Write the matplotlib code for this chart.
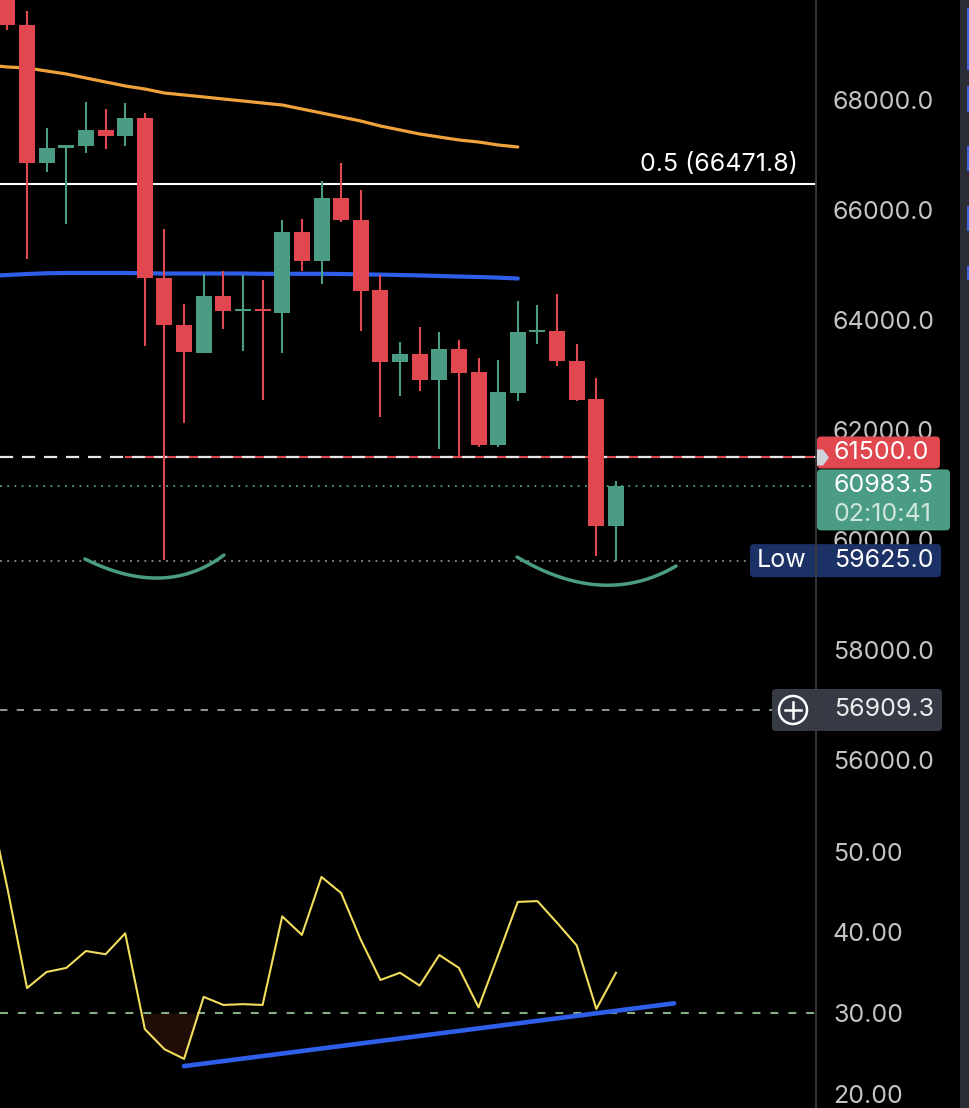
import numpy as np
import matplotlib
matplotlib.use('Agg')
import matplotlib.pyplot as plt
from matplotlib.patches import FancyBboxPatch, Circle, Polygon, Rectangle

plt.rcParams['font.family'] = ['Inter', 'DejaVu Sans']

# Candles (index 0 = leftmost, partly visible)
opens = [69900, 69364, 66855, 67127, 67164, 67455, 67345, 67673, 64764, 63909,
         63400, 64436, 64164, 64170, 64127, 65600, 65073, 66218, 65818, 64545,
         63236, 63382, 62909, 63473, 63055, 61727, 62673, 63782, 63800, 63255,
         62564, 60255]
highs = [70100, 69618, 67491, 67182, 67964, 67836, 67945, 67764, 65655, 64291,
         64836, 64891, 64818, 64727, 65818, 65836, 66527, 66855, 66364, 64818,
         63600, 63873, 63782, 63636, 63309, 63273, 64345, 64273, 64473, 63564,
         62945, 61073]
lows = [69273, 65109, 66691, 65745, 67036, 67109, 67164, 63527, 59636, 62127,
        63400, 63836, 63436, 62545, 63400, 64891, 64655, 65782, 63800, 62236,
        62618, 62709, 61655, 61509, 61691, 61691, 62527, 63564, 63164, 62527,
        59709, 59625]
closes = [69364, 66855, 67127, 67182, 67455, 67345, 67673, 64764, 63909, 63418,
          64436, 64164, 64170, 64164, 65600, 65073, 66218, 65818, 64527, 63236,
          63382, 62909, 63473, 63036, 61727, 62691, 63782, 63800, 63255, 62545,
          60255, 60983.5]

# moving averages (start one candle left of the view)
ma_idx = list(range(-1, 27))
ma_orange = [68636, 68600, 68582, 68527, 68473, 68400, 68327, 68255, 68200, 68127,
             68091, 68055, 68018, 67982, 67945, 67909, 67836, 67764, 67691, 67618,
             67527, 67455, 67382, 67327, 67273, 67236, 67182, 67145]
ma_blue = [64800, 64818, 64836, 64850, 64855, 64855, 64855, 64855, 64850, 64845,
           64845, 64845, 64845, 64845, 64840, 64840, 64840, 64840, 64836, 64830,
           64825, 64818, 64810, 64800, 64790, 64782, 64770, 64755]

# RSI
rsi_idx = list(range(-1, 32))
rsi = [57.0, 45.5, 33.1, 35.1, 35.6, 37.7, 37.3, 39.9, 28.0, 25.5, 24.3,
       32.0, 31.0, 31.1, 31.0, 42.0, 39.7, 46.9, 44.9, 39.1, 34.1, 35.0,
       33.4, 37.2, 35.6, 30.7, 37.2, 43.8, 43.9, 41.2, 38.4, 30.5, 35.0]

fib_level = 66471.8
level_red = 61500.0
red_line_start = 5.99
last_price = 60983.5
low_price = 59625.0
low_line_end = 37.83
alert_price = 56909.3
alert_line_end = 38.95
rsi_level = 30
timer_text = "02:10:41"

price_ticks = [56000, 58000, 60000, 62000, 64000, 66000, 68000]
rsi_ticks = [20, 30, 40, 50]

trend_x = [8.99, 33.96]
trend_y = [23.4, 31.2]

# hand drawn arcs (start, control, end)
arc1 = [(3.95, 59655), (8.05, 58927), (11.03, 59727)]
arc2 = [(25.96, 59691), (30.37, 58755), (34.06, 59527)]

RED = '#e0474e'
GREEN = '#4a9c85'
BLUE = '#2f5ee8'
ORANGE = '#f0a23a'
LBL = '#c4c4c4'

W, H = 970, 1108
fig = plt.figure(figsize=(W / 100, H / 100), dpi=100, facecolor='black')

xl = (-0.377, 41.24)
ax_p = fig.add_axes([0, (H - 788) / H, 817 / W, 788 / H], facecolor='black')
ax_r = fig.add_axes([0, 0, 817 / W, 318 / H], facecolor='black')

for ax in (ax_p, ax_r):
    ax.set_xlim(*xl)
    for s in ax.spines.values():
        s.set_visible(False)
    ax.set_xticks([])
    ax.yaxis.tick_right()
    ax.tick_params(axis='y', length=0, pad=11.5, labelsize=18, labelcolor=LBL)

ax_p.set_ylim(55491, 69818)
ax_p.set_yticks(price_ticks)
ax_p.set_yticklabels([f"{v:.1f}" for v in price_ticks])

ax_r.set_ylim(18.2, 57.7)
ax_r.set_yticks(rsi_ticks)
ax_r.set_yticklabels([f"{v:.2f}" for v in rsi_ticks])

# levels
ax_p.axhline(fib_level, color='white', lw=1.5, zorder=2)
ax_p.hlines(level_red, red_line_start, xl[1], color=RED, lw=1.5, zorder=2)
ax_p.axhline(level_red, color='#e6e6e6', lw=1.6, dashes=(5.9, 4.0), zorder=2)
ax_p.axhline(last_price, color=GREEN, lw=1.3, ls=(0, (1, 3)), zorder=2)
ax_p.hlines(low_price, xl[0], low_line_end, color='#8c8c8c', lw=1.3, ls=(0, (1, 3)), zorder=2)
ax_p.hlines(alert_price, xl[0], alert_line_end, color='#8e9a94', lw=1.4, ls=(0, (3.8, 4.8)), zorder=2)

# moving averages
ax_p.plot(ma_idx, ma_orange, color=ORANGE, lw=2.3, zorder=3, solid_capstyle='round')
ax_p.plot(ma_idx, ma_blue, color=BLUE, lw=3, zorder=3, solid_capstyle='round')

# candles
o = np.array(opens)
c = np.array(closes)
x = np.arange(len(o))
cols = [GREEN if cc >= oo else RED for oo, cc in zip(o, c)]
ax_p.vlines(x, lows, highs, colors=cols, lw=1.5, zorder=4)
ax_p.bar(x, np.maximum(np.abs(c - o), 28), bottom=np.minimum(o, c), width=0.815,
         color=cols, zorder=5)

# arcs
t = np.linspace(0, 1, 60)
for arc in (arc1, arc2):
    p0, p1, p2 = [np.array(p) for p in arc]
    pts = np.outer((1 - t) ** 2, p0) + np.outer(2 * t * (1 - t), p1) + np.outer(t ** 2, p2)
    ax_p.plot(pts[:, 0], pts[:, 1], color=GREEN, lw=2.5, solid_capstyle='round', zorder=6)

# RSI panel
rv = np.array(rsi)
ax_r.fill_between(rsi_idx, rv, rsi_level, where=rv < rsi_level, interpolate=True,
                  color='#1f0d06', lw=0, zorder=1)
ax_r.axhline(rsi_level, color='#86ad84', lw=1.5, dashes=(3.8, 4.8), zorder=2)
ax_r.plot(rsi_idx, rsi, color='#f2dd5c', lw=1.5, zorder=3)
ax_r.plot(trend_x, trend_y, color=BLUE, lw=3.3, solid_capstyle='round', zorder=4)

# overlay in pixel coords for price scale labels
ov = fig.add_axes([0, 0, 1, 1], facecolor='none', zorder=10)
ov.set_xlim(0, W)
ov.set_ylim(H, 0)
ov.axis('off')


def py(price):
    return H - ax_p.transData.transform((0, price))[1]


def box(x0, x1, yc, h, color):
    ov.add_patch(FancyBboxPatch((x0, yc - h / 2), x1 - x0, h,
                                boxstyle='round,pad=0,rounding_size=4',
                                fc=color, ec='none', zorder=2))


ov.text(798, py(fib_level) - 20, f"0.5 ({fib_level})", color='white', fontsize=18,
        ha='right', va='center')

yr = py(level_red)
box(817, 940, yr - 5, 32, RED)
ov.text(834, yr - 5, f"{level_red:.1f}", color='white', fontsize=18, va='center', zorder=3)
ov.add_patch(Polygon([(817, yr - 8), (823, yr - 8), (829, yr), (823, yr + 8), (817, yr + 8)],
                     closed=True, fc='#d0d3da', ec='none', zorder=3))

yl = py(last_price)
box(817, 950, yl + 14, 61, GREEN)
ov.text(834, yl, f"{last_price:.1f}", color='white', fontsize=18, va='center', zorder=3)
ov.text(834, yl + 29, timer_text, color='#cfe6dd', fontsize=18, va='center', zorder=3)

ylo = py(low_price)
box(750, 941, ylo, 33, '#1c3166')
ov.text(782, ylo, "Low", color='white', fontsize=18, va='center', ha='center', zorder=3)
ov.text(834, ylo, f"{low_price:.1f}", color='white', fontsize=18, va='center', zorder=3)

ya = py(alert_price)
box(772, 942, ya, 42, '#363a45')
ov.add_patch(Circle((793, ya), 14, fc='none', ec='white', lw=1.8, zorder=3))
ov.plot([785, 801], [ya, ya], color='white', lw=1.8, zorder=3)
ov.plot([793, 793], [ya - 8, ya + 8], color='white', lw=1.8, zorder=3)
ov.text(834, ya, f"{alert_price:.1f}", color='#ececec', fontsize=18, va='center', zorder=3)

# price scale separator and right toolbar strip
ov.plot([816.5, 816.5], [0, H], color='#3a3a3a', lw=1.3, zorder=4)
ov.add_patch(Rectangle((960, 0), 10, H, fc='#2a2d35', ec='none', zorder=1))
for y0, y1 in [(8, 70), (86, 112), (146, 171), (206, 231), (266, 280)]:
    ov.add_patch(Rectangle((967, y0), 3, y1 - y0, fc='#3d63dd', ec='none', zorder=2))

fig.savefig('out.png', dpi=100, facecolor='black')
